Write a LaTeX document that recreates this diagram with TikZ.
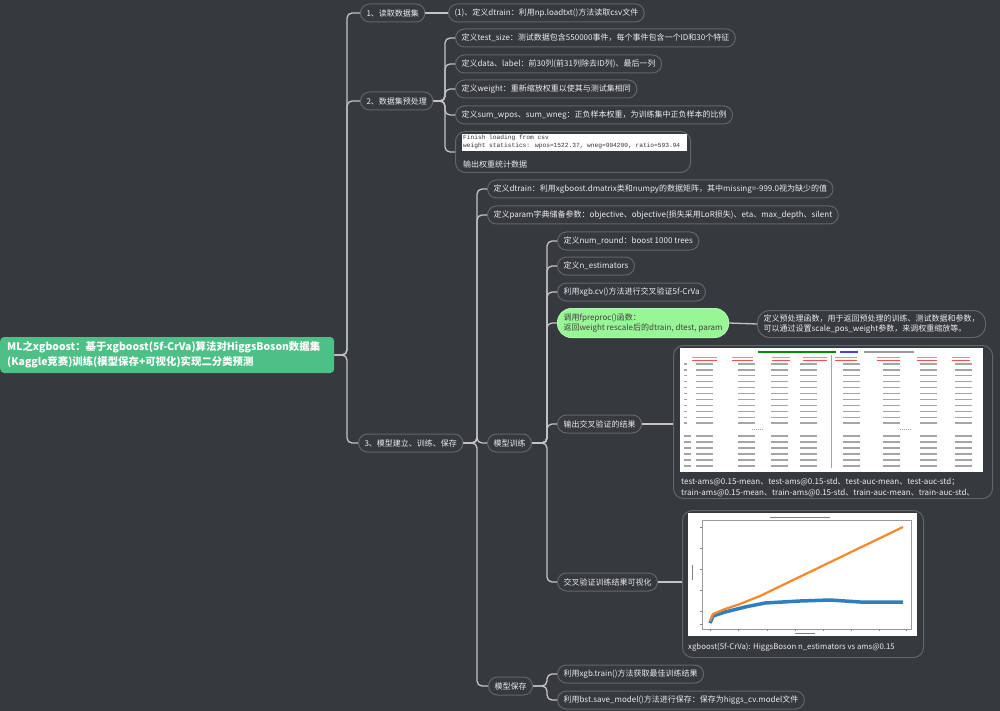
\documentclass[tikz,border=0pt]{standalone}
\usepackage{fontspec}
\setmainfont{Noto Sans CJK SC}
\newfontfamily\monof{Liberation Mono}
\definecolor{bgc}{RGB}{54,57,62}
\definecolor{pillc}{RGB}{98,101,106}
\definecolor{linec}{RGB}{196,196,196}
\definecolor{txtc}{RGB}{236,236,236}
\definecolor{rootc}{RGB}{76,192,134}
\definecolor{greenc}{RGB}{152,246,150}
\definecolor{orangec}{RGB}{245,137,42}
\definecolor{bluec}{RGB}{46,126,192}
\definecolor{cellc}{RGB}{165,165,165}
\tikzset{
  pill/.style={draw=pillc, line width=1pt, fill=bgc, rounded corners=9pt, text=txtc,
    font=\fontsize{8}{10}\selectfont, inner xsep=6pt, inner ysep=0pt, minimum height=18pt, anchor=west, align=left},
  card/.style={draw=pillc, line width=1pt, fill=bgc, rounded corners=10pt, anchor=north west, inner sep=0pt},
  rootbox/.style={anchor=west, fill=rootc, rounded corners=4pt, text=white,
    font=\bfseries\fontsize{10.4}{15}\selectfont, align=left, text width=320pt, inner xsep=7pt, minimum height=36pt},
  conn/.style={draw=linec, line width=1.3pt, rounded corners=5pt},
  cell/.style={draw=cellc, line width=1.2pt},
  capt/.style={text=txtc, inner sep=0pt, align=left}
}
\begin{document}
\begin{tikzpicture}[x=1pt,y=-1pt]
\fill[bgc] (0,0) rectangle (1000,711);
\useasboundingbox (0,0) rectangle (1000,711);

\coordinate (tA) at (347,0);
\coordinate (tB) at (445,0);
\coordinate (tC) at (477,0);
\coordinate (tD) at (547,0);

% root
\node[rootbox] (root) at (0,355) {ML之xgboost：基于xgboost(5f-CrVa)算法对HiggsBoson数据集\\(Kaggle竞赛)训练(模型保存+可视化)实现二分类预测};

% level 1
\node[pill] (n1) at (360,13) {1、读取数据集};
\node[pill] (n2) at (360,101) {2、数据集预处理};
\node[pill] (n3) at (358,443) {3、模型建立、训练、保存};

% branch 1
\node[pill] (n11) at (448,13) {(1)、定义dtrain：利用np.loadtxt()方法读取csv文件};

% branch 2
\node[pill] (n21) at (455,38) {定义test\_size：测试数据包含550000事件，每个事件包含一个ID和30个特征};
\node[pill] (n22) at (455,64) {定义data、label：前30列(前31列除去ID列)、最后一列};
\node[pill] (n23) at (455,89) {定义weight：重新缩放权重以使其与测试集相同};
\node[pill] (n24) at (455,115) {定义sum\_wpos、sum\_wneg：正负样本权重，为训练集中正负样本的比例};
\node[card, minimum width=235pt, minimum height=41pt] (n25) at (455,131) {};
\fill[white] (462,134) rectangle (687,151);
\node[anchor=north west, inner sep=0pt, align=left, font=\monof\fontsize{6.2}{7.4}\selectfont, text=black!80] (n25t) at (463,135) {Finish loading from csv\\weight statistics: wpos=1522.37, wneg=904200, ratio=593.94};
\node[capt, anchor=west, font=\fontsize{8}{9}\selectfont] (n25c) at (463,164) {输出权重统计数据};

% branch 3
\node[pill] (m1) at (487,189) {定义dtrain：利用xgboost.dmatrix类和numpy的数据矩阵，其中missing=-999.0视为缺少的值};
\node[pill] (m2) at (487,215) {定义param字典储备参数：objective、objective(损失采用LoR损失)、eta、max\_depth、silent};
\node[pill] (m3) at (487,443) {模型训练};
\node[pill] (m4) at (488,686) {模型保存};

% model training children
\node[pill] (k1) at (557,241) {定义num\_round：boost 1000 trees};
\node[pill] (k2) at (557,266) {定义n\_estimators};
\node[pill] (k3) at (557,292) {利用xgb.cv()方法进行交叉验证5f-CrVa};
\node[pill, fill=greenc, draw=greenc!80!white, text=black!75, rounded corners=14pt, minimum height=29pt, inner ysep=2pt] (k4) at (557,323) {调用fpreproc()函数：\\返回weight rescale后的dtrain, dtest, param};
\node[pill, rounded corners=12pt, minimum height=27pt, inner ysep=2pt] (pre) at (757,324) {定义预处理函数，用于返回预处理的训练、测试数据和参数，\\可以通过设置scale\_pos\_weight参数，来调权重缩放等。};
\node[pill] (k5) at (557,424) {输出交叉验证的结果};
\node[pill] (k6) at (557,582) {交叉验证训练结果可视化};

% model saving children
\node[pill] (s1) at (557,674) {利用xgb.train()方法获取最佳训练结果};
\node[pill] (s2) at (557,700) {利用bst.save\_model()方法进行保存：保存为higgs\_cv.model文件};

% table card
\node[card, minimum width=319pt, minimum height=153pt] (tab) at (673,345) {};
\fill[white] (680,348) rectangle (983,472);
\draw[line width=1.2pt, green!55!black] (758,352) -- (836,352);
\draw[line width=1.2pt, blue!75] (840,352) -- (858,352);
\draw[line width=1.2pt, gray!80] (864,352) -- (914,352);
\foreach \a/\b in {692/717,732/753,772/790,803/827,835/857,877/900,917/937,952/970}{
  \draw[line width=1.1pt, gray!70] (\a,357.5) -- (\b,357.5);
  \draw[red!70, line width=0.5pt] (\a,360.3) -- (\b,360.3);
}
\foreach \y in {364,369.9,375.8,381.7,387.6,393.5,399.4,405.3,411.2,417.1,423}{
  \draw[cell] (684,\y) -- (687,\y);
  \foreach \e in {713,755,788,817,860,900,937,972}{\draw[cell] (\e-17,\y) -- (\e,\y);}
}
\foreach \y in {436,442,448,454,460,466}{
  \draw[cell] (684,\y) -- (691,\y);
  \foreach \e in {713,755,788,817,860,900,937,972}{\draw[cell] (\e-17,\y) -- (\e,\y);}
}
\draw[cell, line width=0.8pt, dash pattern=on 1pt off 1pt] (752,429) -- (763,429);
\draw[cell, line width=0.8pt, dash pattern=on 1pt off 1pt] (900,429) -- (911,429);
\draw[gray!70, line width=0.6pt] (831,355) -- (831,468);
\node[capt, anchor=north west, font=\fontsize{8}{11}\selectfont] (tcap) at (681,478) {test-ams@0.15-mean、test-ams@0.15-std、test-auc-mean、test-auc-std；\\train-ams@0.15-mean、train-ams@0.15-std、train-auc-mean、train-auc-std、};

% plot card
\node[card, minimum width=241pt, minimum height=147pt] (plt) at (682,510) {};
\fill[white] (688,513) rectangle (917,636);
\draw[gray!80, line width=0.5pt] (702,520) rectangle (911,629);
\draw[gray, line width=0.8pt] (770,517) -- (830,517);
\draw[gray, line width=0.8pt] (692,565) -- (692,580);
\draw[gray, line width=0.8pt] (795,633) -- (815,633);
\foreach \x in {710,738,767,795,823,851,879,906}{\draw[gray, line width=0.4pt] (\x,629) -- (\x,631);}
\foreach \y in {527,548,569,590,611,624}{\draw[gray, line width=0.4pt] (702,\y) -- (700,\y);}
\draw[bluec, line width=3.5pt, line join=round] (710,623) -- (713,616) -- (725,612) -- (745,607) -- (765,603) -- (800,601) -- (830,600) -- (860,602) -- (903,602);
\draw[orangec, line width=2.2pt, line join=round] (710,621) -- (713,614) -- (725,609) -- (740,604) -- (760,596) -- (903,527);
\node[capt, anchor=west, font=\fontsize{7.8}{9}\selectfont] (pcap) at (688,647) {xgboost(5f-CrVa): HiggsBoson n\_estimators vs ams@0.15};

% connectors
\foreach \c in {n1,n2,n3}{\draw[conn] (root.east) -- (root.east -| tA) |- (\c.west);}
\draw[conn] (n1.east) -- (n11.west);
\foreach \c in {n21,n22,n23,n24,n25}{\draw[conn] (n2.east) -- (n2.east -| tB) |- (\c.west);}
\foreach \c in {m1,m2,m3,m4}{\draw[conn] (n3.east) -- (n3.east -| tC) |- (\c.west);}
\foreach \c in {k1,k2,k3,k4,k5,k6}{\draw[conn] (m3.east) -- (m3.east -| tD) |- (\c.west);}
\foreach \c in {s1,s2}{\draw[conn] (m4.east) -- (m4.east -| tD) |- (\c.west);}
\draw[conn] (k4.east) -- (pre.west);
\draw[conn] (k5.east) -- (k5.east -| tab.west);
\draw[conn] (k6.east) -- (k6.east -| plt.west);
\end{tikzpicture}
\end{document}
